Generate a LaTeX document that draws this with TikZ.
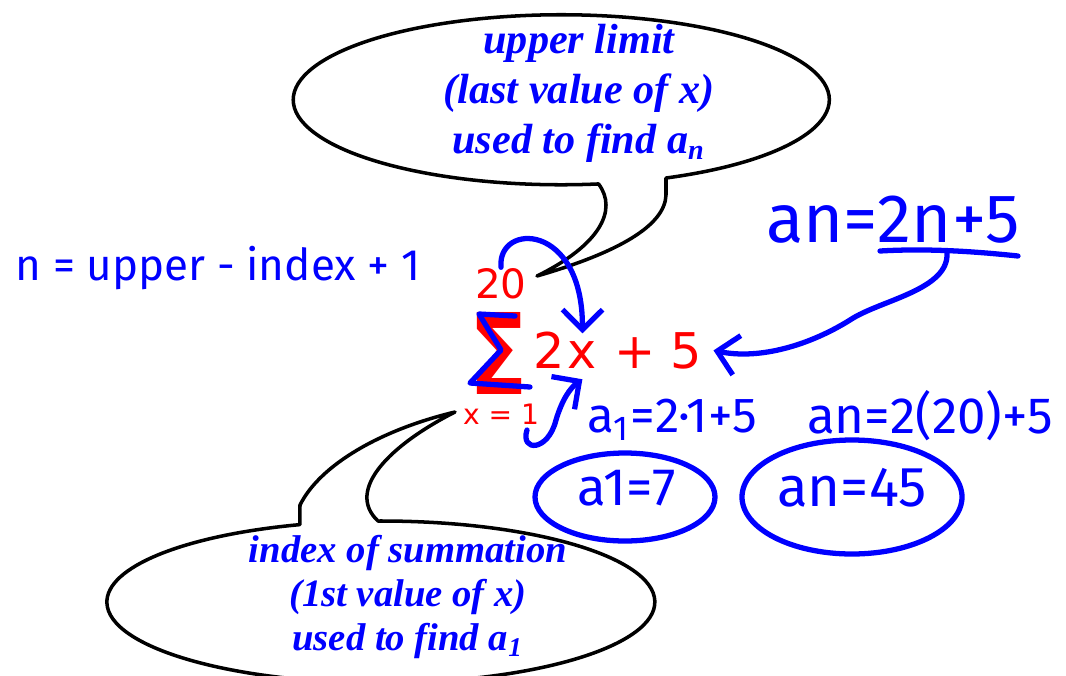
\documentclass[tikz,border=0pt]{standalone}
\usepackage{fontspec}
\usepackage{graphicx}
\setmainfont{Liberation Serif}
\newfontfamily\sumfont{DejaVu Sans}
\newfontfamily\handfont{Fira Sans}
\usetikzlibrary{arrows.meta,positioning}

\begin{document}
\begin{tikzpicture}[x=0.01cm, y=-0.01cm,
  bubble/.style={draw=black, line width=1pt, line join=round},
  note/.style={text=blue, align=center, inner sep=0pt,
    font=\bfseries\itshape\fontsize{12}{14.2}\selectfont},
  sumtxt/.style={text=red, inner sep=0pt, anchor=base,
    font=\sumfont\fontsize{14}{14}\selectfont},
  hand/.style={text=blue, inner sep=0pt, font=\handfont\fontsize{15}{15}\selectfont},
  ink/.style={draw=blue, line width=1.5pt, line cap=round, line join=round},
  inkarrow/.style={ink, -{Straight Barb[length=2mm, width=4mm]}},
]
  \useasboundingbox (0,0) rectangle (1066,675);
  \clip (0,0) rectangle (1066,675);

  % --- the sum itself -----------------------------------------------
  \node[sumtxt, font=\sumfont\bfseries\fontsize{32}{32}\selectfont] (sig) at (499,394) {\scalebox{0.76}[1]{Σ}};
  \node[sumtxt, font=\sumfont\fontsize{11.5}{11.5}\selectfont] (up) at (501,298) {20};
  \node[sumtxt, font=\sumfont\fontsize{8}{8}\selectfont] (lo) at (501,424) {x = 1};
  \node[sumtxt] (two) at (549,368) {2};
  \node[sumtxt, right=0.5pt of two.base east, anchor=base west] (ex) {x};
  \node[sumtxt, right=4.5pt of ex.base east, anchor=base west] (plus) {+};
  \node[sumtxt, right=4pt of plus.base east, anchor=base west] (five) {5};

  % blue trace over the sigma
  \draw[ink] (515,316) -- (479,314) -- (501,350) -- (470,383) -- (530,387);

  % --- speech bubbles -----------------------------------------------
  \coordinate (utip) at (537,276);
  \coordinate (btip) at (455,412);
  \draw[bubble] (666,178) arc[start angle=67, end angle=-278, x radius=268, y radius=85]
    .. controls (618,210) and (600,245) .. (utip)
    .. controls (620,252) and (665,225) .. (666,195) -- cycle;
  \draw[bubble] (378,521) arc[start angle=-90.6, end angle=252.8, x radius=274, y radius=81]
    -- (300,505) .. controls (320,465) and (380,430) .. (btip)
    .. controls (390,445) and (345,490) .. cycle;

  \node[note] (ubub) at (579,93) {upper limit\\(last value of x)\\used to find a\textsubscript{n}};
  \node[note, font=\bfseries\itshape\fontsize{11}{12.6}\selectfont] (lbub) at (408,597)
    {index of summation\\(1st value of x)\\used to find a\textsubscript{1}};

  % --- handwritten notes --------------------------------------------
  \node[hand, font=\handfont\fontsize{12.5}{12.5}\selectfont] (nform) at (218,268) {n = upper - index + 1};
  \node[hand, font=\handfont\fontsize{19.5}{19.5}\selectfont] (angen) at (893,220) {an=2n+5};
  \node[hand, font=\handfont\fontsize{14}{14}\selectfont] (aexp) at (672,420) {a\textsubscript{1}=2·1+5};
  \node[hand, font=\handfont\fontsize{14.5}{14.5}\selectfont] (anexp) at (930,416) {an=2(20)+5};
  \node[hand] (aone) at (627,488) {a1=7};
  \node[hand, font=\handfont\fontsize{16}{16}\selectfont] (anres) at (852,488) {an=45};

  \draw[ink] (625,497) ellipse[x radius=90, y radius=44];
  \draw[ink] (852,497) ellipse[x radius=110, y radius=57];

  \coordinate (ul1) at (880,251);
  \coordinate (ul2) at (1018,256);
  \coordinate (under) at (947,252);
  \coordinate (hook) at (527,430);
  \draw[ink] (ul1) .. controls (930,248) and (980,252) .. (ul2);

  % --- arrows -------------------------------------------------------
  \draw[inkarrow] (up.north) .. controls (497,222) and (583,222) .. ([yshift=2pt]ex.north);
  \draw[inkarrow] (hook) .. controls (520,452) and (548,452) .. (556,420)
    .. controls (562,400) and (570,388) .. ([yshift=-3pt]ex.south);
  \draw[inkarrow] (under) .. controls (950,290) and (880,300) .. (850,320)
    .. controls (810,345) and (760,360) .. ([xshift=3pt]five.east);
\end{tikzpicture}
\end{document}
